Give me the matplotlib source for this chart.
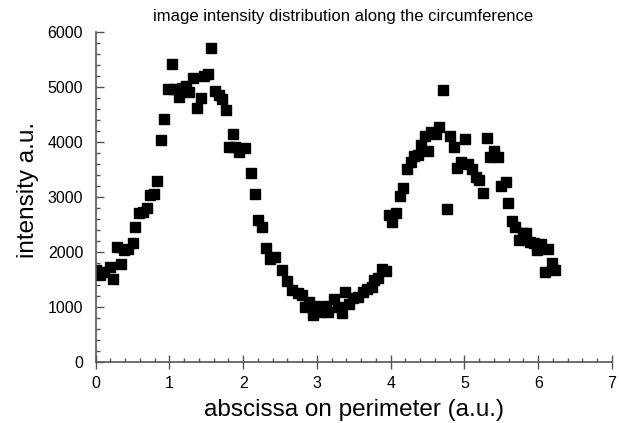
import matplotlib
matplotlib.use("Agg")
import matplotlib.pyplot as plt
from matplotlib.ticker import MultipleLocator

plt.rcParams['font.family'] = ['Liberation Sans', 'DejaVu Sans']

x = [0.00, 0.054, 0.12, 0.20, 0.24, 0.29, 0.35, 0.38, 0.44, 0.50, 0.54, 0.59, 0.64, 0.69, 0.74, 0.79, 0.83,
     0.88, 0.93, 0.98, 1.03, 1.06, 1.13, 1.165, 1.22, 1.27, 1.32, 1.37, 1.43, 1.47, 1.53, 1.56, 1.62, 1.67,
     1.715, 1.77, 1.81, 1.865, 1.89, 1.95, 2.02, 2.10, 2.16, 2.20, 2.26, 2.31, 2.36, 2.43, 2.53, 2.60,
     2.66, 2.74, 2.80, 2.84, 2.89, 2.95, 2.97, 3.05, 3.12, 3.15, 3.23, 3.29, 3.34, 3.38, 3.44, 3.49, 3.56,
     3.62, 3.68, 3.74, 3.78, 3.83, 3.88, 3.93, 3.98, 4.02, 4.07, 4.12, 4.17, 4.22, 4.27, 4.32, 4.37,
     4.41, 4.46, 4.51, 4.55, 4.61, 4.66, 4.71, 4.76, 4.80, 4.86, 4.90, 4.95, 5.01, 5.05, 5.10, 5.15,
     5.20, 5.25, 5.30, 5.35, 5.40, 5.455, 5.50, 5.56, 5.59, 5.645, 5.69, 5.74, 5.79, 5.84, 5.885, 5.94,
     5.98, 6.04, 6.09, 6.13, 6.19, 6.23]
intensity = [1667, 1576, 1636, 1716, 1503, 2080, 1776, 2030, 2043, 2152, 2443, 2698, 2727, 2789, 3031, 3049, 3285,
             4030, 4413, 4958, 5407, 4958, 4818, 4970, 5018, 4909, 5152, 4607, 4800, 5194, 5225, 5698, 4922, 4849,
             4770, 4576, 3909, 4140, 3909, 3818, 3891, 3425, 3044, 2576, 2455, 2062, 1862, 1898, 1667, 1467,
             1304, 1255, 1213, 1000, 1091, 849, 1013, 909, 1013, 909, 1135, 1000, 880, 1273, 1049, 1153, 1171,
             1273, 1316, 1353, 1485, 1516, 1680, 1655, 2667, 2545, 2698, 3013, 3153, 3498, 3636, 3740, 3758,
             3940, 4104, 3836, 4182, 4140, 4262, 4940, 2771, 4104, 3898, 3516, 3636, 4044, 3595, 3498, 3364,
             3304, 3073, 4062, 3716, 3836, 3716, 3195, 3273, 2880, 2564, 2455, 2213, 2345, 2333, 2182, 2164,
             2030, 2140, 1636, 2043, 1789, 1667]

title = "image intensity distribution along the circumference"
xlabel = "abscissa on perimeter (a.u.)"
ylabel = "intensity a.u."

fig = plt.figure(figsize=(6.21, 4.23), dpi=100)
ax = fig.add_axes([0.154, 0.145, 0.8315, 0.78])
ax.plot(x, intensity, linestyle='none', marker='s', markersize=7, color='black')

ax.set_xlim(0, 7)
ax.set_ylim(0, 6000)
ax.xaxis.set_major_locator(MultipleLocator(1))
ax.xaxis.set_minor_locator(MultipleLocator(0.2))
ax.yaxis.set_major_locator(MultipleLocator(1000))
ax.yaxis.set_minor_locator(MultipleLocator(200))
ax.tick_params(which='both', colors='#555555', labelcolor='black', labelsize=11.5, width=1)
ax.tick_params(axis='x', which='major', direction='inout', length=10, pad=5)
ax.tick_params(axis='x', which='minor', direction='in', length=3)
ax.tick_params(axis='y', which='major', direction='in', length=6, pad=9)
ax.tick_params(axis='y', which='minor', direction='in', length=3)
for s in ['top', 'right']:
    ax.spines[s].set_visible(False)
for s in ['left', 'bottom']:
    ax.spines[s].set_color('#555555')
    ax.spines[s].set_linewidth(1.2)

ax.set_title(title, fontsize=12, pad=8, x=0.479)
ax.set_xlabel(xlabel, fontsize=17.5, labelpad=6)
ax.set_ylabel(ylabel, fontsize=17.5)
ax.yaxis.set_label_coords(-0.11, 0.52)

fig.savefig("out.png", dpi=100)
